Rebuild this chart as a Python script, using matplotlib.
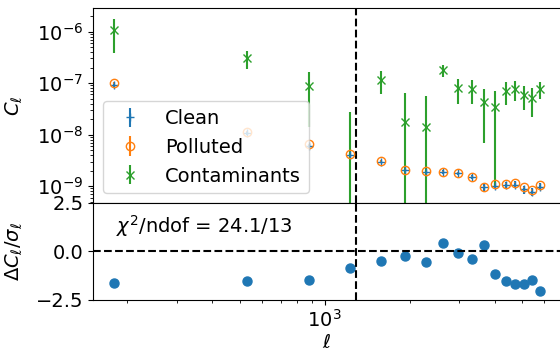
import numpy as np
import matplotlib
matplotlib.use("Agg")
import matplotlib.pyplot as plt

ell = [180, 530, 880, 1230, 1580, 1930, 2280, 2630, 2980, 3330,
       3680, 4030, 4380, 4730, 5080, 5430, 5780]

polluted = [1.0e-7, 1.14e-8, 6.5e-9, 4.2e-9, 3.1e-9, 2.07e-9, 1.98e-9, 1.87e-9,
            1.79e-9, 1.52e-9, 9.7e-10, 1.09e-9, 1.12e-9, 1.17e-9, 9.4e-10, 8.4e-10, 1.07e-9]
polluted_err = [3e-9, 4e-10, 2e-10, 1.3e-10, 1e-10, 7e-11, 7e-11, 6e-11,
                6e-11, 5e-11, 4e-11, 4e-11, 4e-11, 4e-11, 4e-11, 3.5e-11, 4e-11]

clean = [9.2e-8, 1.06e-8, 6.1e-9, 4.0e-9, 3.0e-9, 2.02e-9, 1.92e-9, 1.88e-9,
         1.78e-9, 1.50e-9, 9.6e-10, 1.02e-9, 1.03e-9, 1.07e-9, 8.6e-10, 7.8e-10, 9.8e-10]
clean_err = [8e-9, 9e-10, 5e-10, 3e-10, 2.4e-10, 1.7e-10, 1.6e-10, 1.5e-10,
             1.4e-10, 1.2e-10, 1.4e-10, 1.6e-10, 1.6e-10, 1.7e-10, 1.5e-10, 1.4e-10, 1.5e-10]

contam = [1.08e-6, 3.07e-7, 8.9e-8, -1e-9, 1.15e-7, 1.73e-8, 1.42e-8, 1.8e-7,
          8.0e-8, 7.7e-8, 4.2e-8, 3.5e-8, 7.1e-8, 7.7e-8, 5.9e-8, 5.05e-8, 7.7e-8]
contam_err = [7.0e-7, 1.2e-7, 7.5e-8, 2.9e-8, 5.5e-8, 4.7e-8, 4.3e-8, 4.6e-8,
              4.0e-8, 3.8e-8, 3.5e-8, 3.4e-8, 3.3e-8, 3.3e-8, 2.9e-8, 2.9e-8, 2.8e-8]

resid = [-1.67, -1.53, -1.48, -0.87, -0.49, -0.25, -0.56, 0.43, -0.09, -0.42,
         0.31, -1.17, -1.53, -1.69, -1.72, -1.51, -2.05]

ell_min = 1290
chi2_text = r"$\chi^2$/ndof = 24.1/13"

plt.rcParams['font.size'] = 14

fig = plt.figure(figsize=(5.6, 3.52), dpi=100)
ax1 = fig.add_axes([93/560, 1-203/352, 468/560, (203-8.5)/352])
ax2 = fig.add_axes([93/560, 1-299.5/352, 468/560, (299.5-203)/352], sharex=ax1)

ax1.errorbar(ell, clean, yerr=clean_err, fmt='+', color='C0', label='Clean')
ax1.errorbar(ell, polluted, yerr=polluted_err, fmt='o', mfc='none', color='C1', label='Polluted')
ax1.errorbar(ell, contam, yerr=contam_err, fmt='x', color='C2', label='Contaminants')
ax1.set_xscale('log')
ax1.set_yscale('log', nonpositive='clip')
ax1.set_ylim(4.7e-10, 2.8e-6)
ax1.axvline(ell_min, color='k', ls='--')
ax1.set_ylabel(r"$C_\ell$")
ax1.yaxis.set_label_coords(-0.145, 0.5)
ax1.legend(loc='lower left')
plt.setp(ax1.get_xticklabels(which='both'), visible=False)

ax2.plot(ell, resid, 'o', color='C0', ms=6.5)
ax2.axhline(0, color='k', ls='--')
ax2.axvline(ell_min, color='k', ls='--')
ax2.set_ylim(-2.5, 2.5)
ax2.set_yticks([-2.5, 0.0, 2.5])
ax2.set_ylabel(r"$\Delta C_\ell/\sigma_\ell$")
ax2.yaxis.set_label_coords(-0.145, 0.5)
ax2.set_xlabel(r"$\ell$", labelpad=1)
ax2.text(0.05, 0.9, chi2_text, transform=ax2.transAxes, va='top', ha='left')

fig.savefig("out.png", dpi=100)
